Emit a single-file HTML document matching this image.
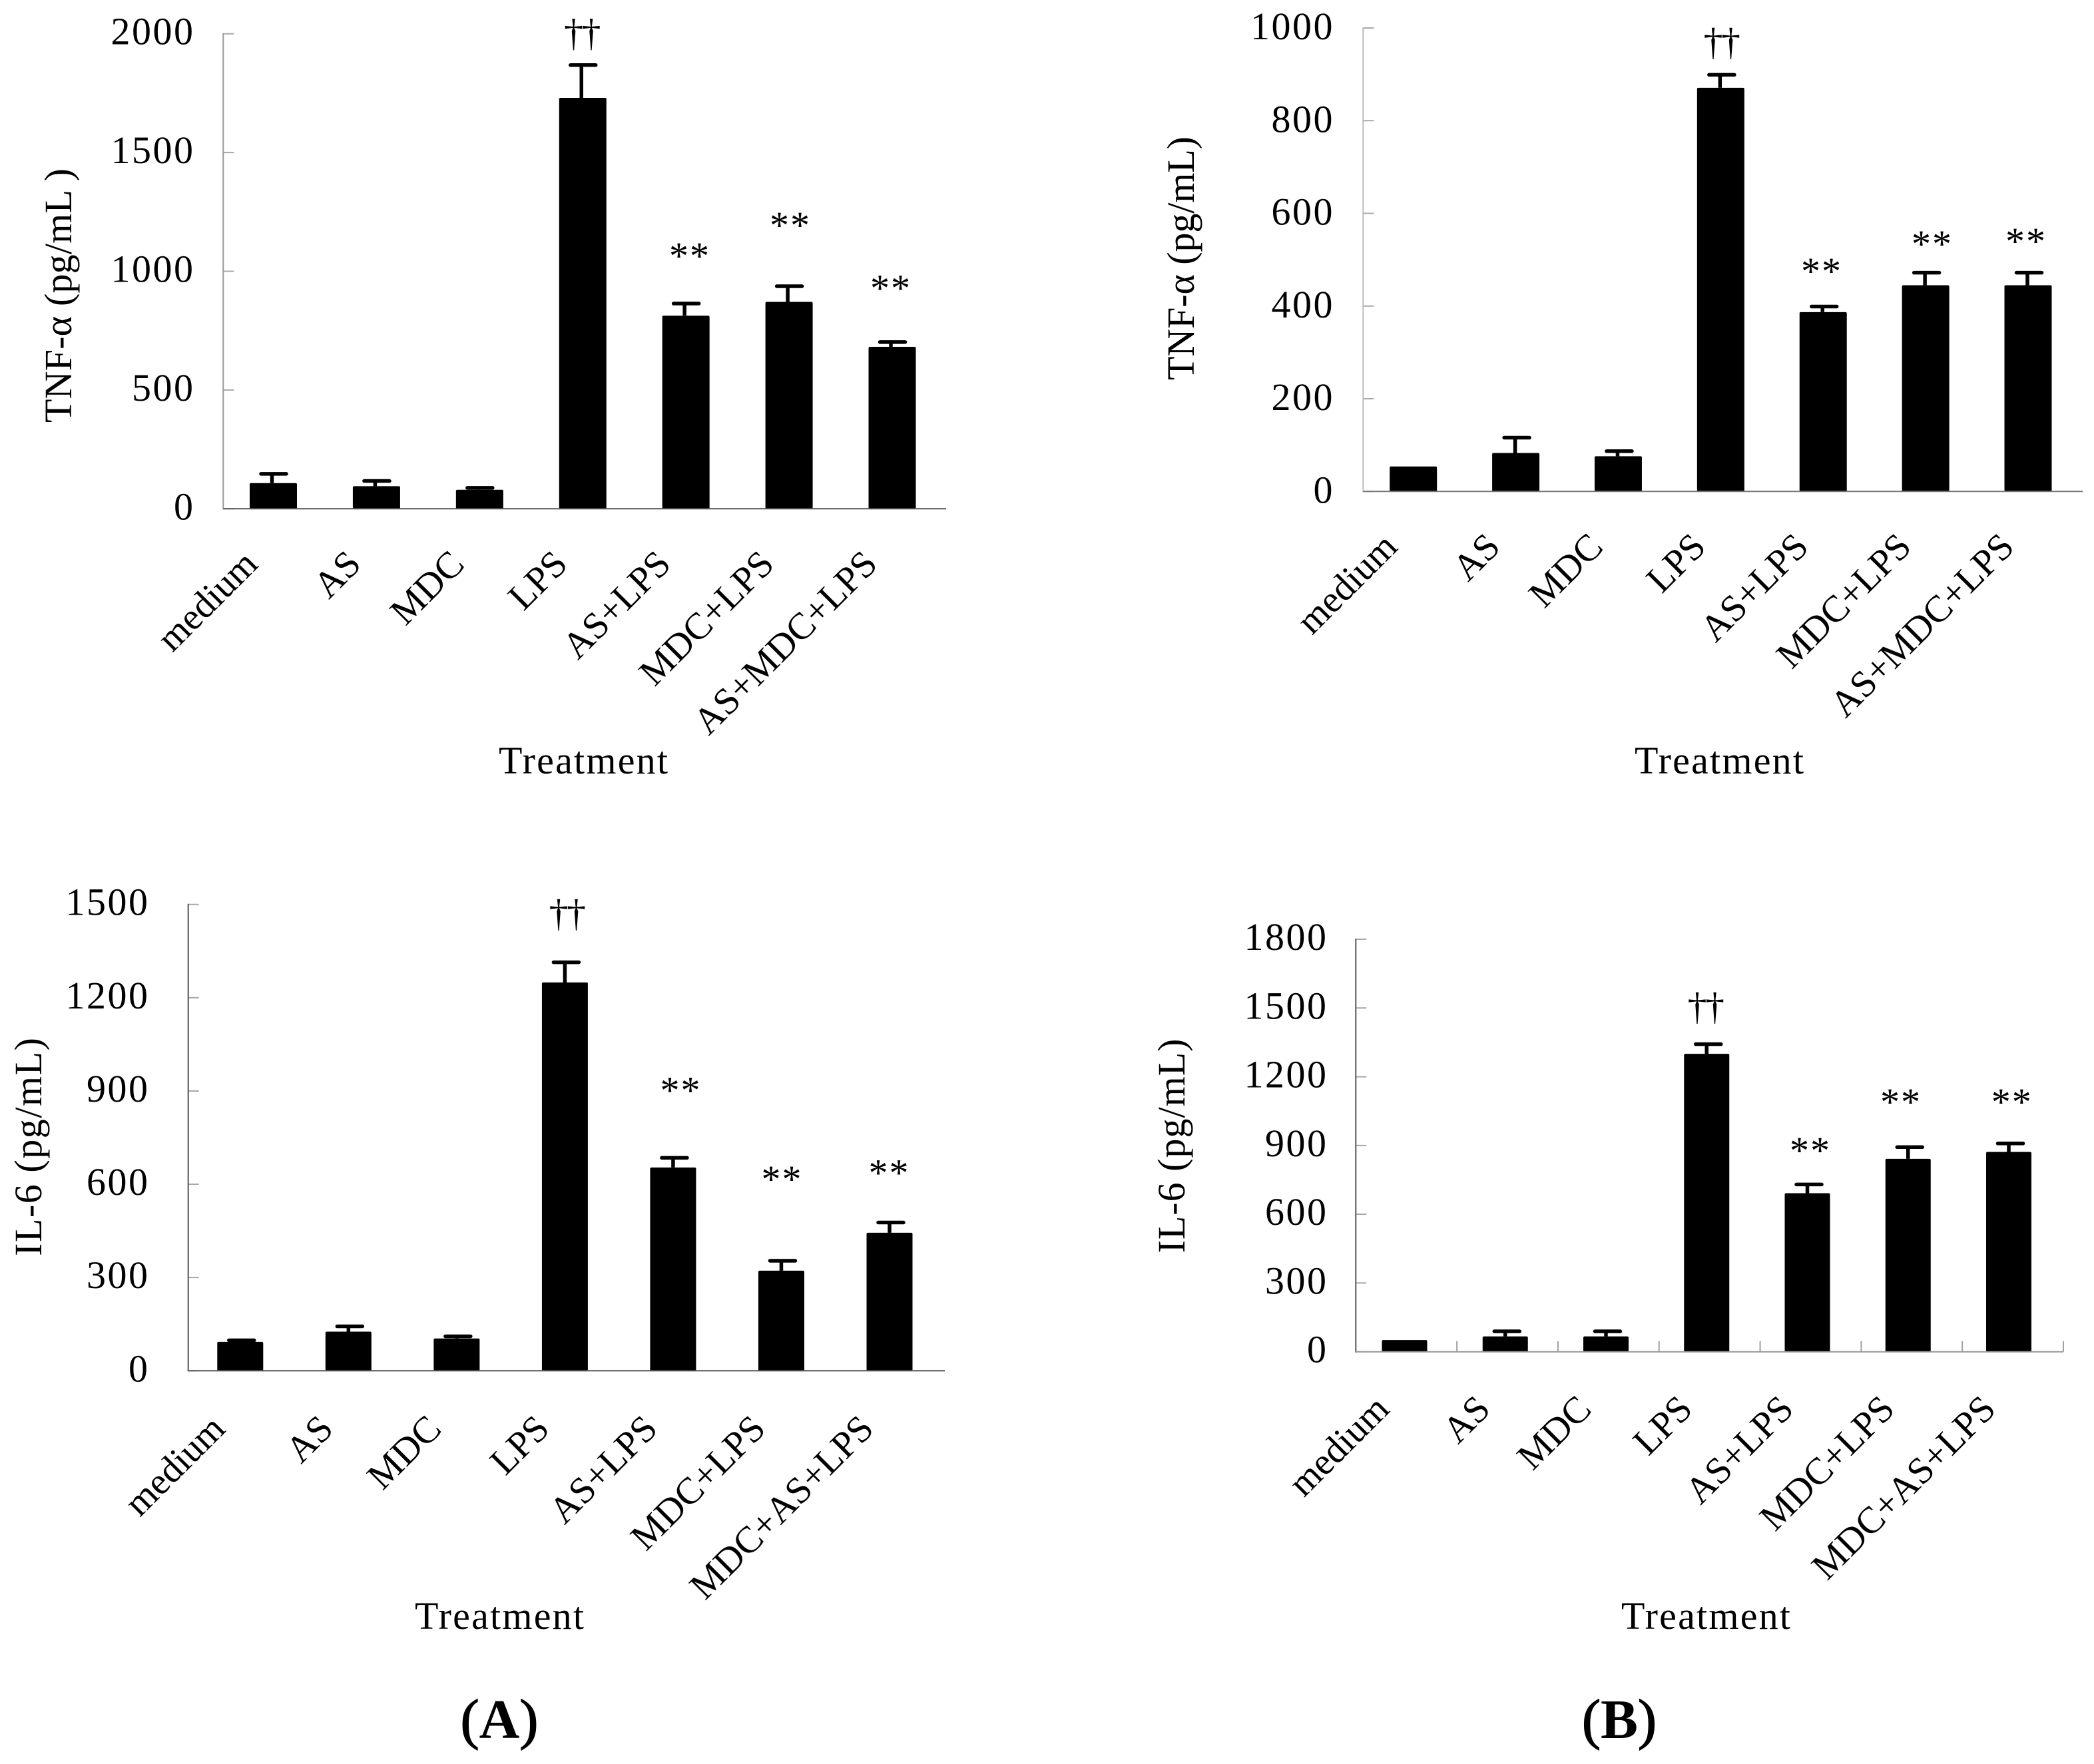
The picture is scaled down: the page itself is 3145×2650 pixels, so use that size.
<!DOCTYPE html>
<html lang="en">
<head>
<meta charset="utf-8">
<title>TNF-α and IL-6 by treatment</title>
<style>
html,body{margin:0;padding:0;background:#fff;}
svg{display:block;}
text{font-family:"Liberation Serif",serif;fill:#000;}
.star{font-size:58px;text-anchor:middle;letter-spacing:2px;}
.dagger{font-size:58px;text-anchor:middle;letter-spacing:-2.5px;}
</style>
</head>
<body>
<svg id="figure" width="3145" height="2650" viewBox="0 0 3145 2650" xmlns="http://www.w3.org/2000/svg">
<rect width="3145" height="2650" fill="#fff"/>
<text x="750" y="2611" font-size="84" text-anchor="middle" stroke="#000" stroke-width="1.5">(<tspan font-weight="bold" stroke="none">A</tspan>)</text>
<text x="2432" y="2611" font-size="84" text-anchor="middle" stroke="#000" stroke-width="1.5">(<tspan font-weight="bold" stroke="none">B</tspan>)</text>

<text class="dagger" x="873.5" y="68.5">††</text>
<text class="star" x="1036" y="404">**</text>
<text class="star" x="1187" y="358">**</text>
<text class="star" x="1338" y="452.5">**</text>

<text class="dagger" x="2585" y="82">††</text>
<text class="star" x="2736" y="427">**</text>
<text class="star" x="2902" y="386">**</text>
<text class="star" x="3043" y="382">**</text>

<text class="dagger" x="851" y="1391">††</text>
<text class="star" x="1022.5" y="1657.5">**</text>
<text class="star" x="1174.5" y="1791">**</text>
<text class="star" x="1335.5" y="1781.5">**</text>

<text class="dagger" x="2561" y="1531">††</text>
<text class="star" x="2719" y="1748">**</text>
<text class="star" x="2855" y="1675">**</text>
<text class="star" x="3021.7" y="1675">**</text>
</svg>
<script>
// ---- Data ----
const categoriesTopLeft = ['medium','AS','MDC','LPS','AS+LPS','MDC+LPS','AS+MDC+LPS'];
const valuesTopLeft = [108,95,80,1730,813,871,682];
const errorsTopLeft = [39,22,8,138,51,66,20];
const ticksTopLeft = [0,500,1000,1500,2000];

const categoriesTopRight = ['medium','AS','MDC','LPS','AS+LPS','MDC+LPS','AS+MDC+LPS'];
const valuesTopRight = [54,83,76,871,387,445,445];
const errorsTopRight = [0,33,11,28,12,27,27];
const ticksTopRight = [0,200,400,600,800,1000];

const categoriesBottomLeft = ['medium','AS','MDC','LPS','AS+LPS','MDC+LPS','MDC+AS+LPS'];
const valuesBottomLeft = [93,126,104,1249,654,322,444];
const errorsBottomLeft = [5,17,7,65,31,32,33];
const ticksBottomLeft = [0,300,600,900,1200,1500];

const categoriesBottomRight = ['medium','AS','MDC','LPS','AS+LPS','MDC+LPS','MDC+AS+LPS'];
const valuesBottomRight = [51,67,67,1300,692,842,872];
const errorsBottomRight = [0,22,22,42,38,51,37];
const ticksBottomRight = [0,300,600,900,1200,1500,1800];

// ---- Drawing ----
const SVGNS = 'http://www.w3.org/2000/svg';
const figure = document.getElementById('figure');
const FONT = 58;
const LABEL_FONT = 56.5;

function make(tag, parent) {
  const el = document.createElementNS(SVGNS, tag);
  parent.appendChild(el);
  return el;
}
function setAll(el, props) {
  for (const k in props) el.setAttribute(k, props[k]);
}

function drawPanel(p) {
  const g = make('g', figure);
  
  

  const n = p.categories.length;
  const maxTick = p.ticks[p.ticks.length - 1];
  const yScale = v => p.base - (v / maxTick) * (p.base - p.top);
  const slot = (p.right - p.left) / n;
  const slotCenter = i => p.left + slot * (i + 0.5);
  const barCenter = i => p.firstBar + i * (p.lastBar - p.firstBar) / (n - 1);

  // y ticks and labels
  p.ticks.forEach(t => {
    const tick = make('line', g);
    
    
    setAll(tick, {x1:p.left, x2:p.left + 16, y1:yScale(t), y2:yScale(t), stroke:'#a8a8a8', 'stroke-width':2});
    const label = make('text', g);
    
    
    setAll(label, {x:p.tickLabelRight + 2.5, y:yScale(t) + p.tickLabelDy, 'font-size':FONT, 'text-anchor':'end', 'letter-spacing':'2.5'});
    label.textContent = String(t);
  });

  // category ticks (only where the panel has them)
  if (p.categoryTicks) {
    p.categories.forEach((c, i) => {
      const tick = make('line', g);
      
      
      const x = p.left + slot * (i + 1);
      setAll(tick, {x1:x, x2:x, y1:p.base, y2:p.base - 16, stroke:'#a0a0a0', 'stroke-width':2});
    });
  }

  // bars and error bars
  p.categories.forEach((c, i) => {
    const cx = barCenter(i);
    if (p.errors[i] > 0) {
      const stem = make('line', g);
      
      
      setAll(stem, {x1:cx + p.stemDx, x2:cx + p.stemDx, y1:yScale(p.values[i]), y2:yScale(p.values[i] + p.errors[i]), stroke:'#000', 'stroke-width':5.5});
      const cap = make('line', g);
      
      
      const capY = yScale(p.values[i] + p.errors[i]);
      setAll(cap, {x1:cx + p.capDx - 19, x2:cx + p.capDx + 19, y1:capY, y2:capY, stroke:'#000', 'stroke-width':5.5, 'stroke-linecap':'round'});
    }
    const bar = make('rect', g);
    
    
    setAll(bar, {x:cx - p.barWidth / 2, y:yScale(p.values[i]), width:p.barWidth, height:p.base - yScale(p.values[i]), rx:2, ry:2, fill:'#000'});

    const label = make('text', g);
    
    
    const lx = slotCenter(i) - 23;
    const ly = p.base + p.xLabelDy;
    setAll(label, {x:lx, y:ly, 'font-size':LABEL_FONT, 'text-anchor':'end', transform:'rotate(-45 ' + lx + ' ' + ly + ')'});
    label.textContent = c;
  });

  // axes
  const yAxis = make('line', g);
  
  
  setAll(yAxis, {x1:p.left, x2:p.left, y1:p.top - 1, y2:p.base + 1, stroke:p.yAxisColor, 'stroke-width':2});
  const xAxis = make('line', g);
  
  
  setAll(xAxis, {x1:p.left, x2:p.right, y1:p.base, y2:p.base, stroke:p.xAxisColor, 'stroke-width':2});

  // axis titles
  const yTitle = make('text', g);
  
  
  setAll(yTitle, {x:p.yTitleX, y:p.yTitleY, 'font-size':FONT, 'text-anchor':'middle', textLength:p.yTitleLength, transform:'rotate(-90 ' + p.yTitleX + ' ' + p.yTitleY + ')'});
  yTitle.textContent = p.yTitle;

  const xTitle = make('text', g);
  
  
  setAll(xTitle, {x:p.xTitleX, y:p.xTitleY, 'font-size':FONT, 'text-anchor':'middle', textLength:254});
  xTitle.textContent = 'Treatment';
}

drawPanel({
  name:'tnf-alpha-chart-a', categories:categoriesTopLeft, values:valuesTopLeft, errors:errorsTopLeft, ticks:ticksTopLeft,
  left:335.3, right:1421, top:50.7, base:764.3, firstBar:410.5, lastBar:1340, barWidth:71, stemDx:-2, capDx:0.5,
  tickLabelRight:290, tickLabelDy:16, xLabelDy:86, categoryTicks:false, yAxisColor:'#999', xAxisColor:'#555',
  yTitle:'TNF-α (pg/mL )', yTitleX:107, yTitleY:444, yTitleLength:382, xTitleX:876, xTitleY:1162
});
drawPanel({
  name:'tnf-alpha-chart-b', categories:categoriesTopRight, values:valuesTopRight, errors:errorsTopRight, ticks:ticksTopRight,
  left:2047.3, right:3128, top:42, base:738.3, firstBar:2122.7, lastBar:3046, barWidth:71, stemDx:-1, capDx:1.5,
  tickLabelRight:2001.5, tickLabelDy:17, xLabelDy:86, categoryTicks:false, yAxisColor:'#bbb', xAxisColor:'#777',
  yTitle:'TNF-α (pg/mL)', yTitleX:1793, yTitleY:388, yTitleLength:366, xTitleX:2582, xTitleY:1162
});
drawPanel({
  name:'il-6-chart-a', categories:categoriesBottomLeft, values:valuesBottomLeft, errors:errorsBottomLeft, ticks:ticksBottomLeft,
  left:282.7, right:1419, top:1358.7, base:2059.3, firstBar:360.8, lastBar:1336, barWidth:69, stemDx:0, capDx:2,
  tickLabelRight:222, tickLabelDy:16, xLabelDy:90, categoryTicks:false, yAxisColor:'#555', xAxisColor:'#555',
  yTitle:'IL-6 (pg/mL)', yTitleX:62, yTitleY:1723, yTitleLength:328, xTitleX:750, xTitleY:2447
});
drawPanel({
  name:'il-6-chart-b', categories:categoriesBottomRight, values:valuesBottomRight, errors:errorsBottomRight, ticks:ticksBottomRight,
  left:2036.3, right:3099, top:1411, base:2030.7, firstBar:2109.5, lastBar:3017, barWidth:68, stemDx:0, capDx:2.5,
  tickLabelRight:1992, tickLabelDy:16, xLabelDy:89, categoryTicks:true, yAxisColor:'#555', xAxisColor:'#999',
  yTitle:'IL-6 (pg/mL)', yTitleX:1779, yTitleY:1721.5, yTitleLength:322, xTitleX:2562, xTitleY:2447
});
</script>
</body>
</html>
